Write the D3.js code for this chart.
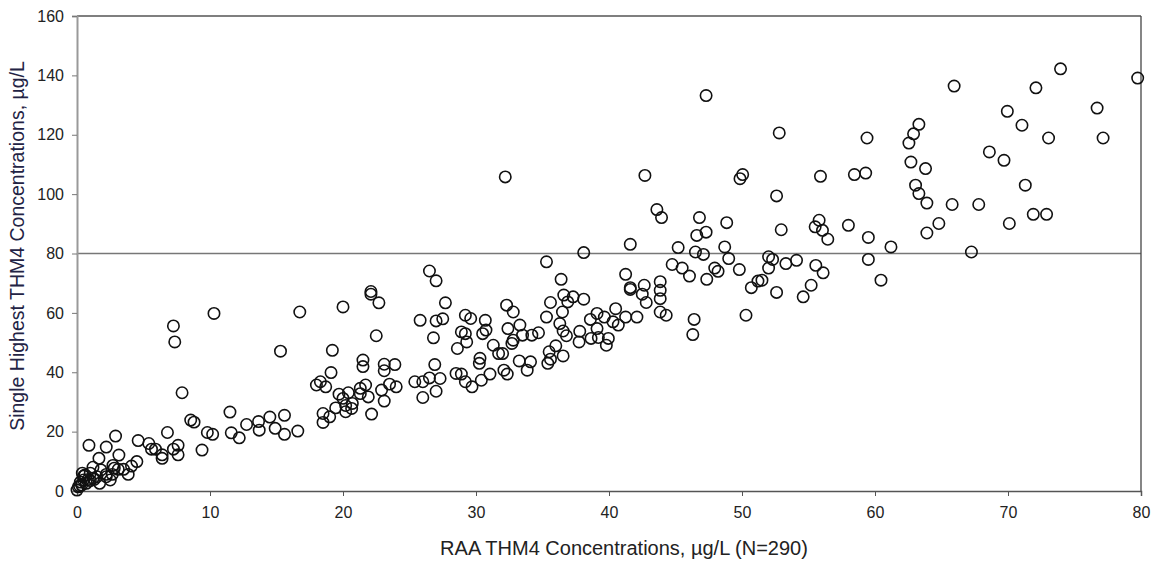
<!DOCTYPE html>
<html>
<head>
<meta charset="utf-8">
<script src="https://cdn.jsdelivr.net/npm/d3@7"></script>
<style>
  html, body { margin: 0; padding: 0; background: #fff; }
  svg { display: block; font-family: "Liberation Sans", Arial, sans-serif; }
</style>
</head>
<body>
<svg id="chart" width="1156" height="561"></svg>
<script>
// RAA THM4 (x) and single highest THM4 (y), µg/L
const raaTHM4 = [
  0,0.1,0.35,0.25,0.5,0.7,0.6,0.85,1.0,1.2,1.3,1.2,1.0,0.5,1.7,1.8,2.2,2.5,2.65,2.7,3.1,3.5,3.85,4.1,4.5,0.4,0.2,1.5,2.2,2.8,
  7.9,0.9,2.9,2.2,1.65,3.15,4.6,5.4,5.6,5.9,6.4,6.4,6.8,7.25,7.6,7.6,8.55,8.8,9.4,9.8,10.2,11.5,11.6,12.2,12.75,13.65,13.7,14.5,14.9,15.6,15.6,16.6,
  20,22.1,22.1,22.7,26.5,27,27.7,25.8,27.0,27.5,26.8,22.5,19.2,19.1,15.3,21.5,21.5,23.1,23.1,23.9,26.9,25.4,26,26.5,27.3,26,27,18,18.3,18.7,19.7,20.4,20,21.3,21.7,21.9,22.9,23.5,24,23.1,20.7,20.2,19.45,20.2,18.5,18.5,19,20.65,22.15,21.3,
  29.2,29.6,30.7,32.3,32.8,28.9,29.2,29.3,28.6,30.5,30.75,31.3,31.7,32,32.4,32.7,32.8,33.3,33.5,34.2,34.7,30.3,30.25,28.5,28.9,29.2,29.7,30.4,31.05,32.1,32.35,33.25,33.85,34.1,
  43.6,43.95,46.8,48.85,46.6,47.3,41.6,38.1,35.3,45.2,46.5,47.1,48.7,49,44.75,45.5,46.05,47.35,47.95,48.2,49.8,52,52,50.7,51.2,51.5,50.3,36.4,41.25,41.6,41.6,42.65,42.5,42.8,43.85,43.85,43.85,43.85,44.3,46.4,46.3,36.6,37.3,38.1,36.9,35.6,36.5,35.3,36.3,36.55,36.8,37.8,37.75,38.6,39.1,39.65,40.5,40.3,40.7,41.25,42.1,39.1,38.65,39.2,39.95,39.8,35.4,35.6,36,35.5,36.55,
  52.8,59.4,62.55,62.9,62.7,63.8,50.05,49.85,55.9,58.45,59.3,63.05,63.3,63.9,52.6,55.8,55.5,56.05,56.45,58,59.5,61.2,63.9,64.8,52.95,59.5,60.45,52.3,53.3,54.1,55.55,56.1,55.2,54.6,52.6,
  65.95,73.95,79.75,72.1,69.95,71.05,73.05,76.7,77.15,68.6,69.7,71.3,65.8,67.8,70.1,71.9,72.9,67.25,
  32.2,7.25,7.35,10.3,16.75,47.3,42.7,63.3
];
const singleHighestTHM4 = [
  0.3,1.4,2,3,3.7,2.6,5.4,3.9,6,4.3,3.9,8,3.5,5,2.6,7.1,5.6,3.7,5.6,8.6,7.3,7.3,5.6,8.4,9.9,6,1.7,4.8,4.8,7.7,
  33.1,15.4,18.5,14.8,11,12.1,17,16,14.1,14.1,12.2,11,19.7,14.1,15.4,12.2,23.9,23.2,13.8,19.7,19.1,26.6,19.6,17.9,22.4,23.4,20.5,24.9,21.1,25.5,19.1,20.2,
  62,67.2,66.3,63.4,74.1,70.8,63.4,57.5,57.3,58,51.6,52.3,47.4,39.9,47.1,44.1,41.9,42.7,40.5,42.6,42.6,36.8,36.8,38.1,37.9,31.5,33.6,35.7,36.8,35.1,32.6,33.1,31.2,34.6,35.7,31.7,34,36,35.1,30.3,29.5,28.8,28,26.7,26.1,23.1,25,27.8,25.9,32.8,
  59.2,58.1,57.5,62.6,60.3,53.6,53,50.2,48,53,54.2,49.1,46.3,46.3,54.7,49.7,50.8,55.9,52.5,52.5,53.3,44.7,43,39.6,39.4,36.8,35.1,37.3,39.4,40.7,39.4,43.8,40.7,43.5,
  94.8,92.1,92.1,90.4,86.1,87.2,83.1,80.3,77.2,82,80.5,79.7,82.2,78.3,76.3,75.1,72.4,71.3,75.1,74,74.6,78.9,75.1,68.5,70.7,71,59.2,71.3,73,68.5,67.9,69.3,66.3,63.5,70.5,67.6,64.8,60.3,59.2,57.8,52.7,66,65.4,64.6,63.7,63.5,60.3,58.6,56.4,53.9,52.3,53.8,50.2,57.8,59.8,58.6,61.4,57,55.9,58.6,58.6,54.7,51.4,51.7,51.4,49.1,43,44.4,48.9,46.9,45.5,
  120.6,118.9,117.2,120.3,110.8,108.6,106.6,105.2,106,106.6,107.1,103,100.2,97,99.4,91.2,89,87.8,84.8,89.5,85.4,82.2,86.9,90.1,88,78,71,78,76.6,77.7,76,73.5,69.3,65.4,66.9,
  136.4,142.2,139.1,135.8,127.9,123.2,118.9,129,118.9,114.2,111.4,103,96.5,96.5,90.1,93.2,93.2,80.5,
  105.8,55.6,50.2,59.8,60.3,133.2,106.3,123.5
];
const xTicks = [0, 10, 20, 30, 40, 50, 60, 70, 80];
const yTicks = [0, 20, 40, 60, 80, 100, 120, 140, 160];
const referenceLevel = 80;
const xTitle = "RAA THM4 Concentrations, µg/L (N=290)";
const yTitle = "Single Highest THM4 Concentrations, µg/L";

(function () {
  const n = Math.min(raaTHM4.length, singleHighestTHM4.length);
  const points = d3.range(n).map(i => ({ x: raaTHM4[i], y: singleHighestTHM4[i] }));

  const svg = d3.select("#chart");
  const L = 77, R = 1141, T = 16, B = 491;
  const x = d3.scaleLinear().domain([0, 80]).range([L, R]);
  const y = d3.scaleLinear().domain([0, 160]).range([B, T]);
  const textColor = "#222";
  const font = "'Liberation Sans', Arial, sans-serif";

  // reference line at 80
  svg.append("line")
    .attr("x1", L).attr("x2", R)
    .attr("y1", y(referenceLevel)).attr("y2", y(referenceLevel))
    .attr("stroke", "#777").attr("stroke-width", 1.3);

  // frame top/right
  svg.append("line").attr("x1", L).attr("x2", R).attr("y1", T).attr("y2", T)
    .attr("stroke", "#555").attr("stroke-width", 1.3);
  svg.append("line").attr("x1", R).attr("x2", R).attr("y1", T).attr("y2", B)
    .attr("stroke", "#444").attr("stroke-width", 1.3);

  // axes
  const xAxis = svg.append("g").attr("transform", `translate(0,${B})`)
    .call(d3.axisBottom(x).tickValues(xTicks).tickSize(5).tickPadding(11).tickFormat(d3.format("d")));
  xAxis.select(".domain").attr("stroke", "#555").attr("stroke-width", 1.5);
  xAxis.selectAll(".tick line").attr("stroke", "#555");
  xAxis.selectAll("text").attr("fill", textColor).style("font-size", "16px").style("font-family", font);

  const yAxis = svg.append("g").attr("transform", `translate(${L},0)`)
    .call(d3.axisLeft(y).tickValues(yTicks).tickSize(5).tickPadding(8).tickFormat(d3.format("d")));
  yAxis.select(".domain").attr("stroke", "#999").attr("stroke-width", 2);
  yAxis.selectAll(".tick line").attr("stroke", "#777");
  yAxis.selectAll("text").attr("fill", textColor).style("font-size", "16px").style("font-family", font);

  // points
  svg.append("g").selectAll("circle").data(points).join("circle")
    .attr("cx", d => x(d.x)).attr("cy", d => y(d.y)).attr("r", 5.7)
    .attr("fill", "none").attr("stroke", "#111").attr("stroke-width", 1.6);

  // titles
  svg.append("text").attr("x", 624).attr("y", 555).attr("text-anchor", "middle")
    .attr("fill", textColor).style("font-size", "20px").text(xTitle);
  svg.append("text").attr("transform", "translate(24,246) rotate(-90)").attr("text-anchor", "middle")
    .attr("fill", "#232344").style("font-size", "19.5px").text(yTitle);
})();
</script>
</body>
</html>
